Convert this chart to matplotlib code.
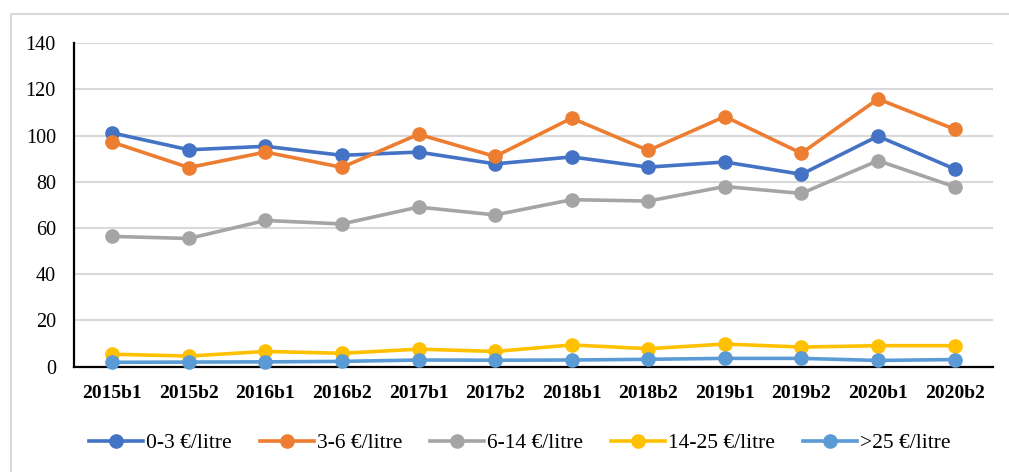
import numpy as np
import matplotlib
matplotlib.use("Agg")
import matplotlib.pyplot as plt
from matplotlib.patches import Rectangle

periods = ["2015b1", "2015b2", "2016b1", "2016b2", "2017b1", "2017b2",
           "2018b1", "2018b2", "2019b1", "2019b2", "2020b1", "2020b2"]

s_0_3 = [101.2, 93.9, 95.4, 91.5, 92.9, 87.8, 90.8, 86.4, 88.6, 83.3, 99.8, 85.6]
s_3_6 = [97.2, 86.2, 92.9, 86.3, 100.6, 91.0, 107.6, 93.6, 108.3, 92.4, 115.9, 102.8]
s_6_14 = [56.4, 55.5, 63.3, 61.8, 69.1, 65.7, 72.3, 71.7, 78.0, 75.0, 89.2, 77.9]
s_14_25 = [5.4, 4.6, 6.6, 5.8, 7.6, 6.6, 9.4, 7.8, 9.8, 8.5, 9.1, 9.1]
s_25 = [1.9, 2.0, 2.1, 2.3, 2.9, 2.8, 2.9, 3.2, 3.6, 3.6, 2.7, 3.1]

labels = ["0-3 €/litre", "3-6 €/litre", "6-14 €/litre", "14-25 €/litre", ">25 €/litre"]
colors = ["#4472C4", "#ED7D31", "#A5A5A5", "#FFC000", "#5B9BD5"]

plt.rcParams["font.family"] = ["Liberation Serif", "DejaVu Serif"]

fig = plt.figure(figsize=(10.09, 4.72), dpi=100)
ax = fig.add_axes([0.0733, 0.2231, 0.9107, 0.6852])

# light grey chart frame (cropped on the right and bottom)
fig.patches.append(Rectangle((11 / 1009, -0.1), 1.2, 1 - 14 / 472 + 0.1,
                             transform=fig.transFigure, fill=False,
                             edgecolor="#D9D9D9", linewidth=1.5, zorder=0))

x = np.arange(len(periods))
for vals, lab, col in zip([s_0_3, s_3_6, s_6_14, s_14_25, s_25], labels, colors):
    ax.plot(x, vals, color=col, linewidth=2.6, marker="o", markersize=9.5,
            label=lab, clip_on=False, zorder=3)

ax.set_xlim(-0.5, len(periods) - 0.5)
ax.set_ylim(0, 140)
ax.set_yticks(range(0, 141, 20))
ax.set_xticks(x)
ax.set_xticklabels(periods, fontweight="bold", fontsize=14)
ax.tick_params(axis="y", labelsize=14.5, length=0, pad=13)
ax.tick_params(axis="x", length=0, pad=13)

ax.grid(axis="y", color="#D9D9D9", linewidth=1.5)
ax.set_axisbelow(True)
for side in ["top", "right"]:
    ax.spines[side].set_visible(False)
ax.spines["left"].set_linewidth(1.6)
ax.spines["bottom"].set_linewidth(1.6)

fig.legend(loc="center", bbox_to_anchor=(520 / 1009, 1 - 443 / 472), ncol=5,
           frameon=False, fontsize=15.5, handlelength=2.5, handletextpad=0.15,
           columnspacing=1.3)

fig.savefig("out.png", dpi=100)
